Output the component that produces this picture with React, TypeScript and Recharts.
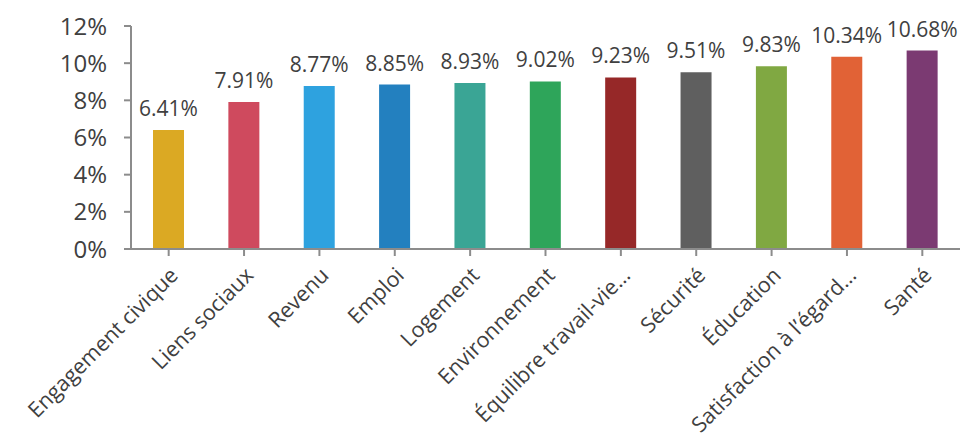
import React from "react"
import { BarChart, Bar, XAxis, YAxis, Cell, LabelList } from "recharts"

const categories = [
  "Engagement civique",
  "Liens sociaux",
  "Revenu",
  "Emploi",
  "Logement",
  "Environnement",
  "Équilibre travail-vie…",
  "Sécurité",
  "Éducation",
  "Satisfaction à l’égard…",
  "Santé",
]
const values = [6.41, 7.91, 8.77, 8.85, 8.93, 9.02, 9.23, 9.51, 9.83, 10.34, 10.68]
const colors = [
  "#DBA923", "#CF4A5E", "#2EA2DF", "#2380BF", "#3AA595", "#2EA55A",
  "#962828", "#5F5F5F", "#80A842", "#E16236", "#7B3A72",
]
const yTicks = [0, 2, 4, 6, 8, 10, 12]

const FONT = "'Open Sans', sans-serif"
const TEXT = "#404040"
const AXIS = "#8C8C8C"

const data = categories.map((name, i) => ({ name, value: values[i] }))

function XTick(props: any) {
  const { x, y, payload } = props
  return (
    <g transform={`translate(${x},${y + 8})`}>
      <text
        x={0}
        y={0}
        dy="0.7em"
        textAnchor="end"
        transform="rotate(-45)"
        fill={TEXT}
        fontSize={21.5}
        fontFamily={FONT}
      >
        {payload.value}
      </text>
    </g>
  )
}

export default function App() {
  return (
    <div style={{ position: "absolute", left: 0, top: 0, background: "#fff" }}>
      <BarChart
        width={960}
        height={443}
        data={data}
        margin={{ top: 26, right: 0, left: 0, bottom: 0 }}
      >
        <XAxis
          dataKey="name"
          height={194}
          interval={0}
          tick={<XTick />}
          axisLine={{ stroke: AXIS, strokeWidth: 2 }}
          tickLine={{ stroke: AXIS, strokeWidth: 2 }}
          tickSize={7}
          padding={{ left: 0, right: 0 }}
        />
        <YAxis
          width={131}
          domain={[0, 12]}
          ticks={yTicks}
          interval={0}
          tickFormatter={(v) => `${v}%`}
          axisLine={{ stroke: AXIS, strokeWidth: 2 }}
          tickLine={{ stroke: AXIS, strokeWidth: 2 }}
          tickSize={7}
          tickMargin={17}
          tick={{ fill: TEXT, fontSize: 24, fontFamily: FONT }}
        />
        <Bar dataKey="value" barSize={31} isAnimationActive={false}>
          {data.map((d, i) => (
            <Cell key={d.name} fill={colors[i]} />
          ))}
          <LabelList
            dataKey="value"
            position="top"
            offset={14}
            formatter={(v: any) => `${Number(v).toFixed(2)}%`}
            fill={TEXT}
            fontSize={21}
            fontFamily={FONT}
          />
        </Bar>
      </BarChart>
    </div>
  )
}
